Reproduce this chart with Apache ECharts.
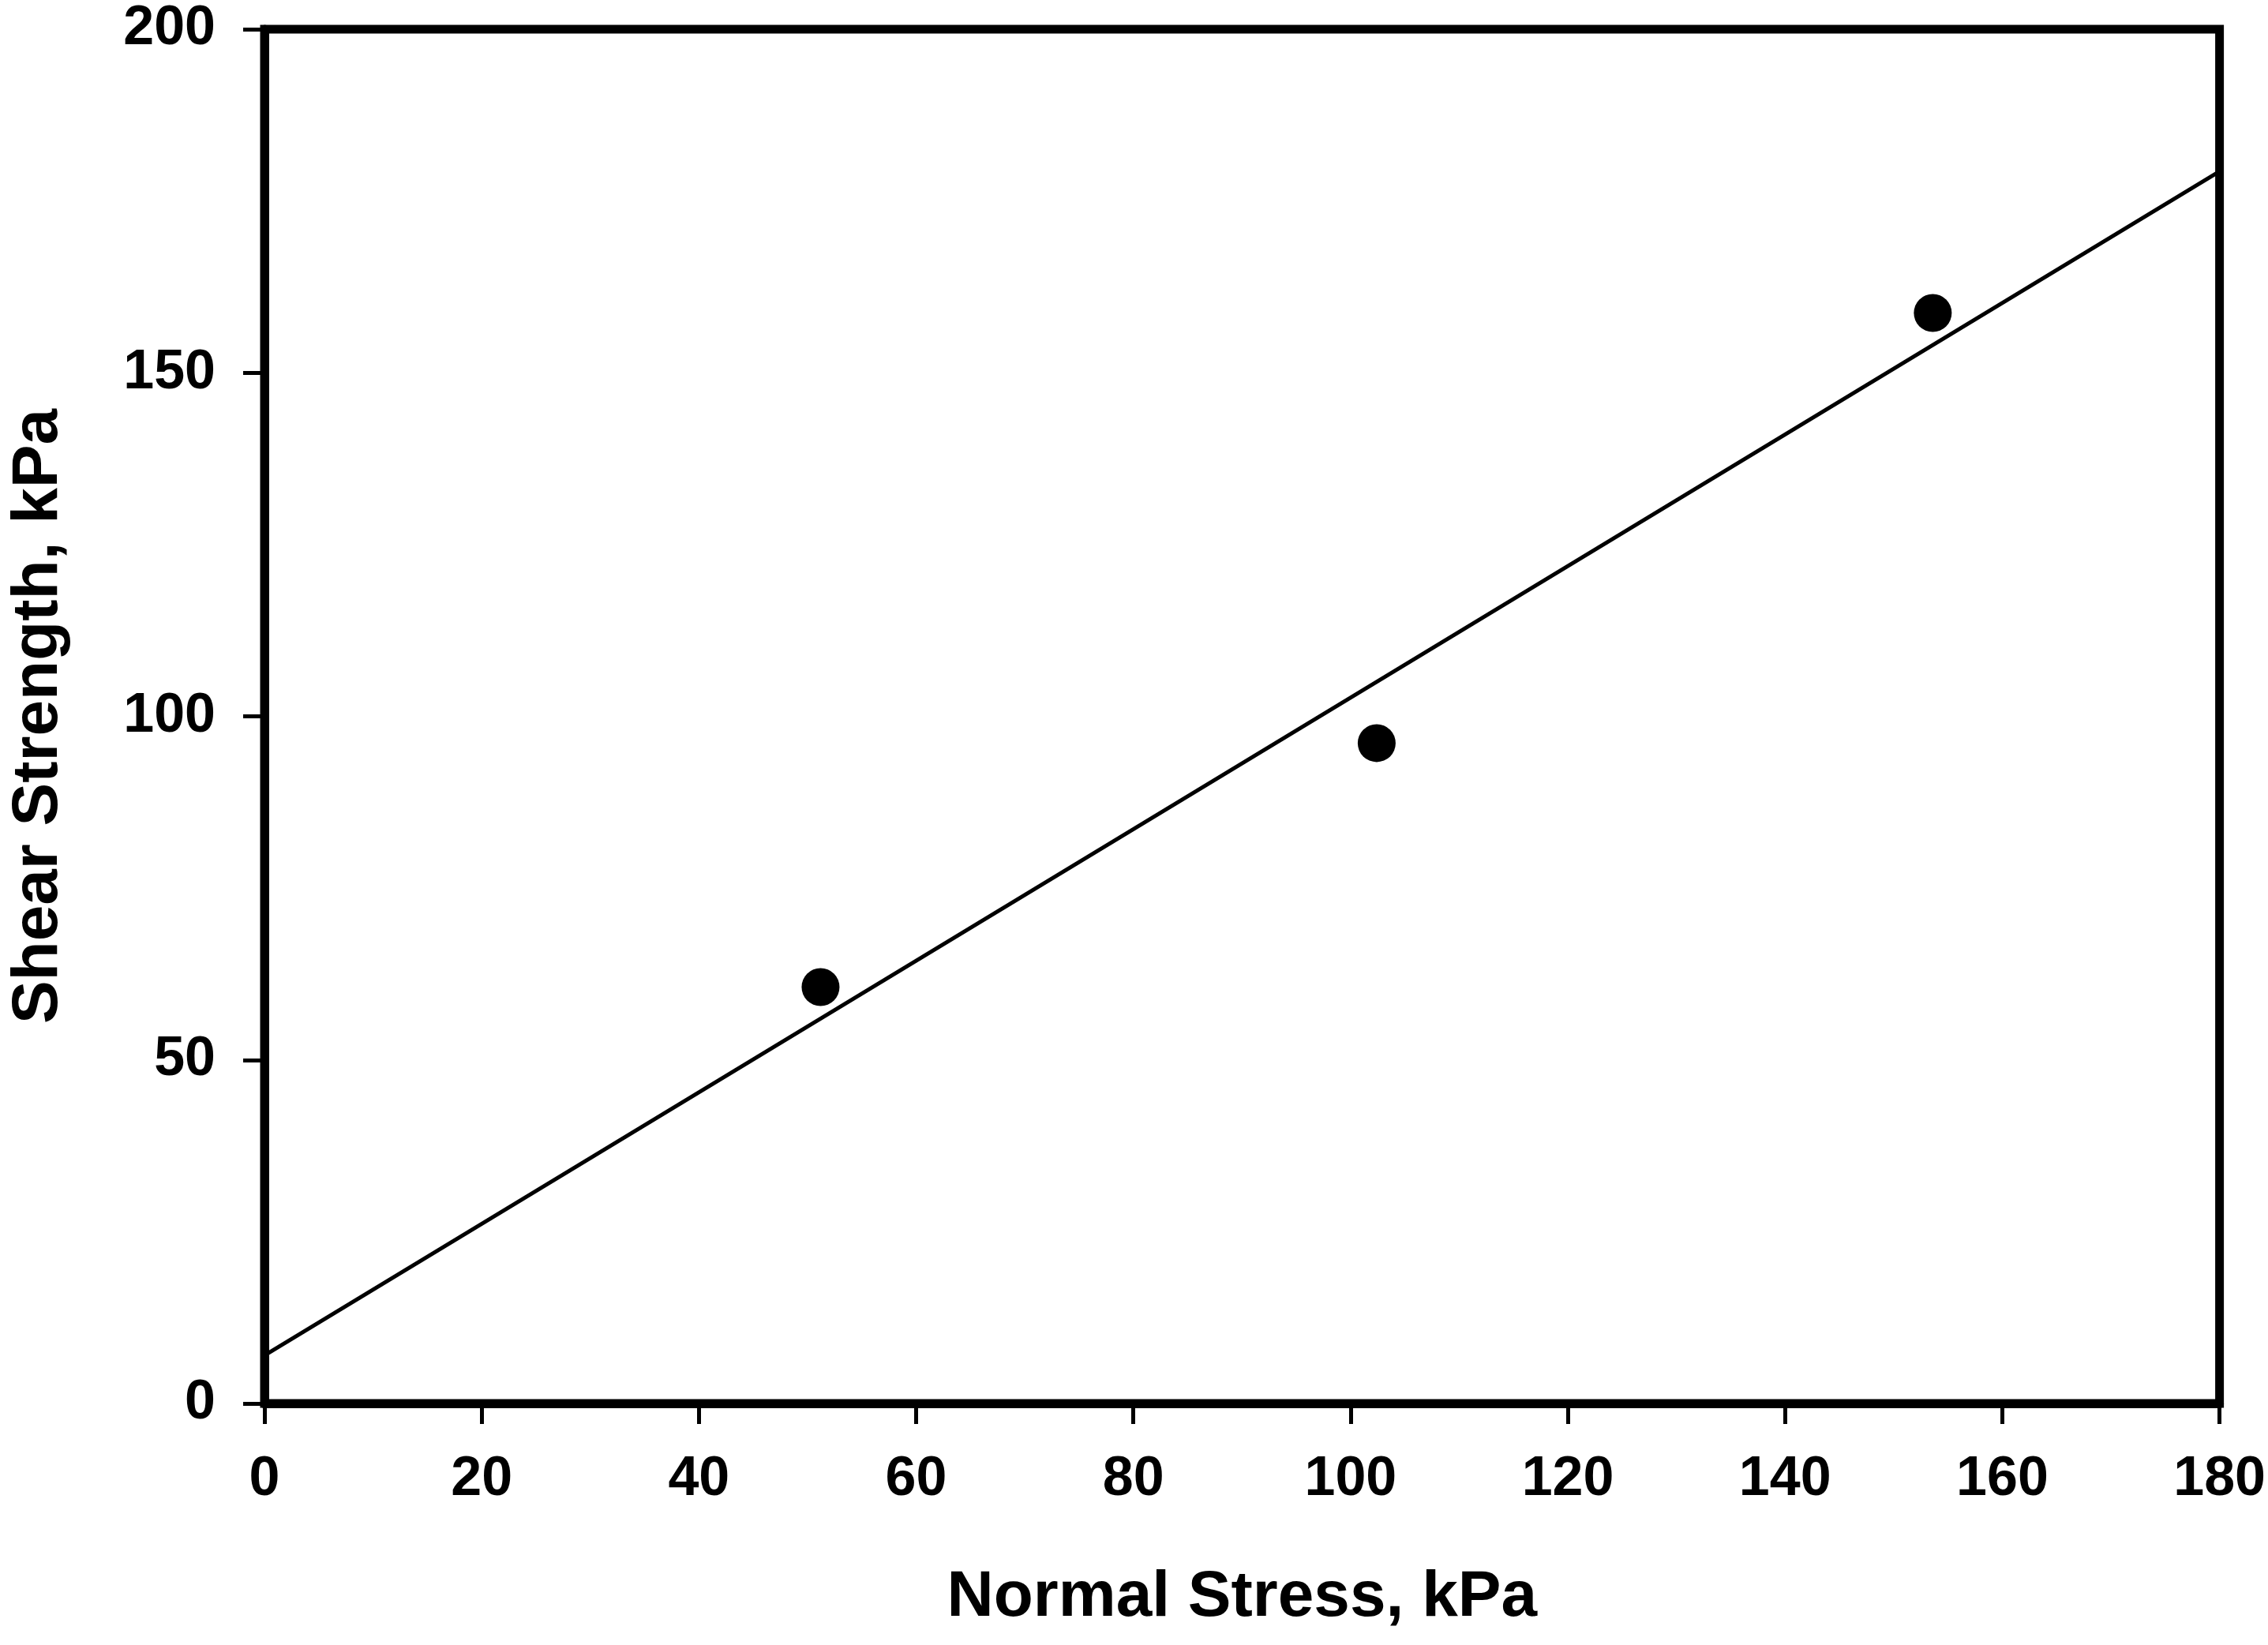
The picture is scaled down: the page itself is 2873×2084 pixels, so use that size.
<!DOCTYPE html>
<html>
<head>
<meta charset="utf-8">
<script src="https://cdn.jsdelivr.net/npm/echarts@6/dist/echarts.min.js"></script>
<style>
html,body{margin:0;padding:0;background:#fff;}
#chart{width:2873px;height:2084px;}
</style>
</head>
<body>
<div id="chart"></div>
<script>
// Measured data points
const normalStress = [51.2, 102.4, 153.6];
const shearStrength = [60.6, 96.1, 158.7];
// Fitted failure envelope endpoints
const fitX = [0, 180];
const fitY = [7.0, 179.3];
// Axis settings
const xAxisTitle = 'Normal Stress, kPa';
const yAxisTitle = 'Shear Strength, kPa';
const xMin = 0, xMax = 180, xStep = 20;
const yMin = 0, yMax = 200, yStep = 50;

const pointData = normalStress.map((x, i) => [x, shearStrength[i]]);
const lineData = fitX.map((x, i) => [x, fitY[i]]);

const FONT = '"Liberation Sans", Arial, sans-serif';
const chart = echarts.init(document.getElementById('chart'));
chart.setOption({
  backgroundColor: '#ffffff',
  animation: false,
  grid: {
    left: 332, right: 61, top: 37, bottom: 306,
    show: true, borderColor: '#000', borderWidth: 11, backgroundColor: 'transparent'
  },
  xAxis: {
    type: 'value', min: xMin, max: xMax, interval: xStep,
    name: xAxisTitle, nameLocation: 'middle', nameGap: 205,
    nameTextStyle: { fontFamily: FONT, fontWeight: 'bold', fontSize: 82, color: '#000' },
    axisLine: { show: true, lineStyle: { color: '#000', width: 11 } },
    axisTick: { show: true, inside: false, length: 26, lineStyle: { color: '#000', width: 5 } },
    axisLabel: { margin: 62, fontFamily: FONT, fontWeight: 'bold', fontSize: 70, color: '#000' },
    splitLine: { show: false }
  },
  yAxis: {
    type: 'value', min: yMin, max: yMax, interval: yStep,
    name: yAxisTitle, nameLocation: 'middle', nameGap: 245,
    nameTextStyle: { fontFamily: FONT, fontWeight: 'bold', fontSize: 82, color: '#000' },
    axisLine: { show: true, lineStyle: { color: '#000', width: 11 } },
    axisTick: { show: true, inside: false, length: 27, lineStyle: { color: '#000', width: 5 } },
    axisLabel: { margin: 62, fontFamily: FONT, fontWeight: 'bold', fontSize: 70, color: '#000' },
    splitLine: { show: false }
  },
  series: [
    {
      type: 'line', data: lineData, showSymbol: false, symbol: 'none',
      lineStyle: { color: '#000', width: 5 }, z: 2
    },
    {
      type: 'scatter', data: pointData, symbol: 'circle', symbolSize: 48,
      itemStyle: { color: '#000', opacity: 1 }, z: 3
    }
  ]
});
</script>
</body>
</html>
